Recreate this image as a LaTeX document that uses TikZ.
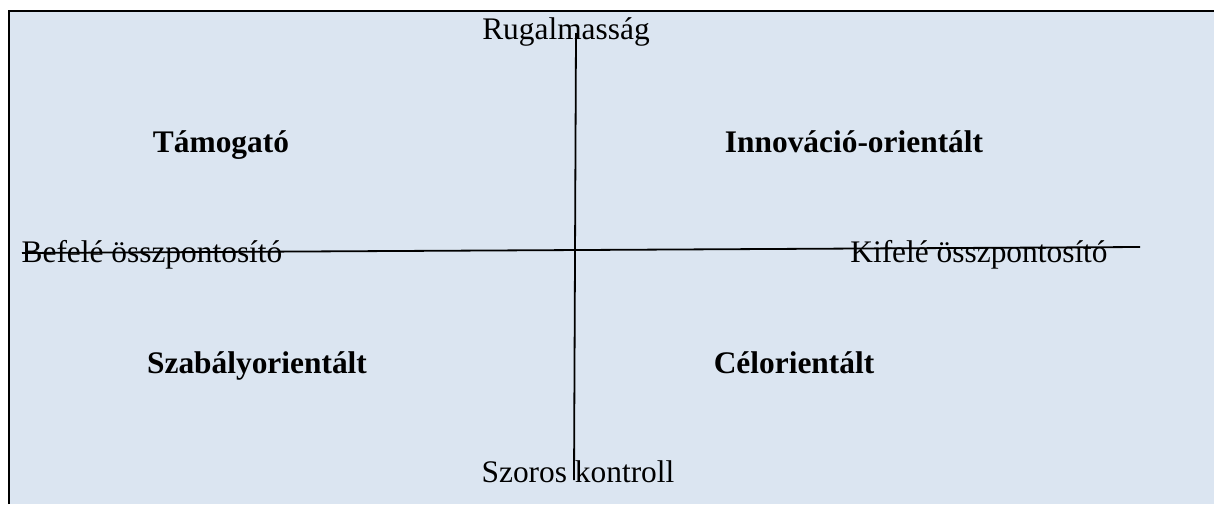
\documentclass[tikz,border=0pt]{standalone}
\usepackage{fontspec}
\setmainfont{Liberation Serif}
\definecolor{panel}{RGB}{219,229,241}
\begin{document}
\begin{tikzpicture}[x=0.5pt,y=-0.5pt,
  lbl/.style={inner sep=0pt,anchor=base,font=\fontsize{15.7pt}{18pt}\selectfont},
  quad/.style={lbl,font=\fontsize{15.7pt}{18pt}\selectfont\bfseries},
  axis/.style={line width=0.9pt}]
\useasboundingbox (0,0) rectangle (1214,504);
% panel with frame (right and bottom edges run off the page)
\fill[panel] (9,11) rectangle (1214,504);
\draw[line width=1.2pt] (9,504) -- (9,11) -- (1214,11);
% axis end points
\coordinate (vtop) at (576,33);
\coordinate (vbot) at (574,480);
\coordinate (hleft) at (22,253);
\coordinate (hright) at (1140,247);
% axis labels
\node[lbl] (flex) at (566,39) {Rugalmasság};
\node[lbl] (ctrl) at (578,482) {Szoros kontroll};
\node[lbl] (inward) at (152,262) {Befelé összpontosító};
\node[lbl] (outward) at (979,262) {Kifelé összpontosító};
% quadrant labels
\node[quad] (support) at (221,152) {Támogató};
\node[quad] (innov) at (854,152) {Innováció-orientált};
\node[quad] (rules) at (257,373) {Szabályorientált};
\node[quad] (goal) at (794,373) {Célorientált};
% axes
\draw[axis] (vtop) -- (vbot);
\draw[axis] (hleft) -- (hright);
\end{tikzpicture}
\end{document}
